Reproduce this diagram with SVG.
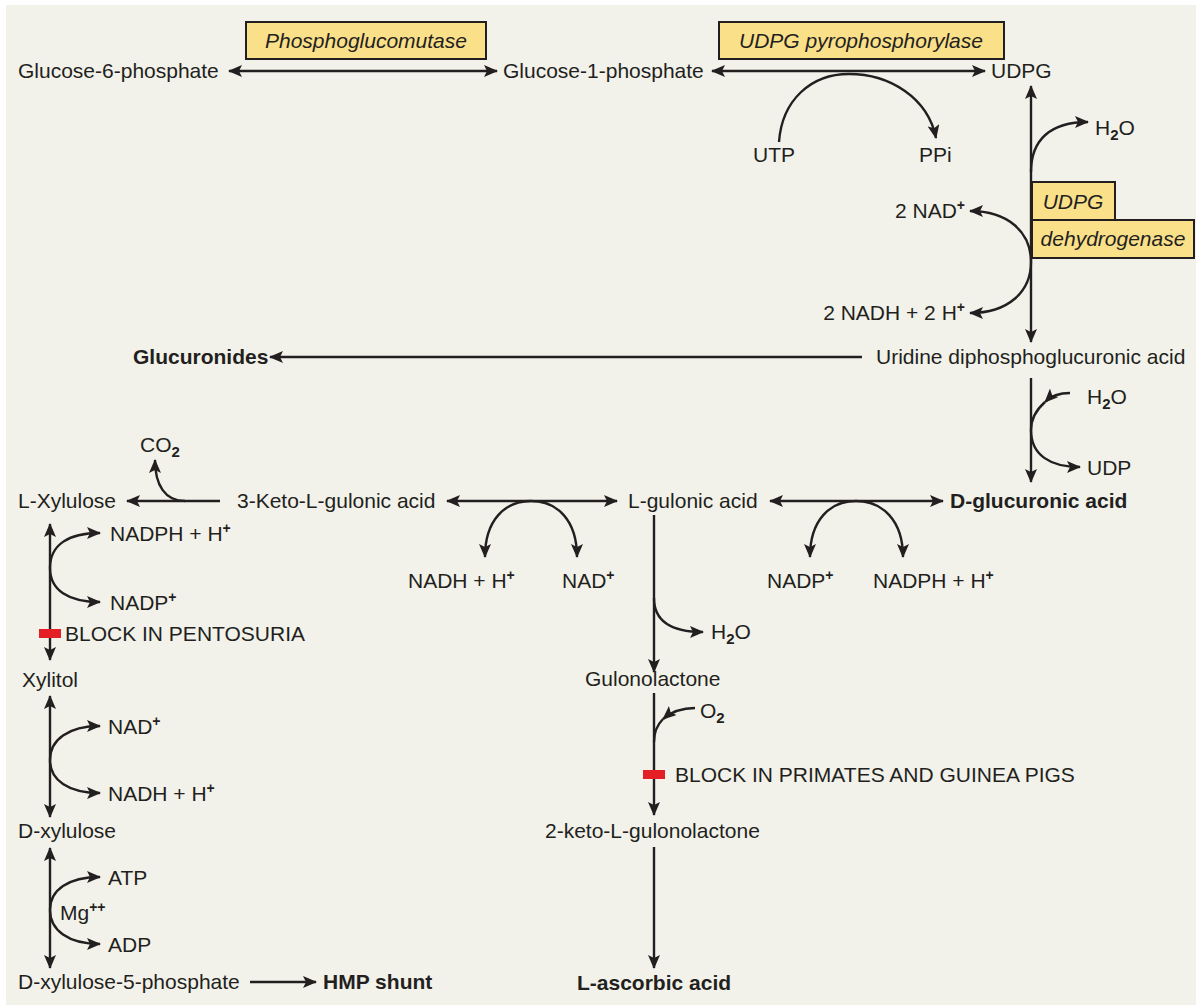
<svg xmlns="http://www.w3.org/2000/svg" width="1196" height="1006" viewBox="0 0 1196 1006">
<style>
.t{font-family:"Liberation Sans",Arial,Helvetica,sans-serif;font-size:21px;fill:#231f20}
.b{font-weight:bold}
.i{font-style:italic}
.sup{font-size:14px;font-weight:bold}
.sub{font-size:15px;font-weight:bold}
.ln{stroke:#231f20;stroke-width:2.4;fill:none}
.box{fill:#fbe08a;stroke:#231f20;stroke-width:2}
.blk{fill:#e31e24}
</style>
<defs>
<marker id="ah" viewBox="0 0 14 12" refX="13" refY="6" markerWidth="14" markerHeight="12" markerUnits="userSpaceOnUse" orient="auto-start-reverse"><path d="M0,0 L14,6 L0,12 L3,6 Z" fill="#231f20"/></marker>
</defs>
<rect x="0" y="0" width="1196" height="1006" fill="#ffffff"/>
<rect x="6" y="5" width="1190" height="1000" fill="#f2f2ea"/>

<g id="connectors">
<path class="ln" d="M229,71 L497,71" marker-start="url(#ah)" marker-end="url(#ah)"/>
<path class="ln" d="M712,71 L985,71" marker-start="url(#ah)" marker-end="url(#ah)"/>
<path class="ln" d="M779,142 C782,100 811,74 849,74 C890,74 928,98 936,138" marker-end="url(#ah)"/>
<path class="ln" d="M1031,342 L1031,86" marker-start="url(#ah)" marker-end="url(#ah)"/>
<path class="ln" d="M1031,172 C1031,140 1050,122 1088,122" marker-end="url(#ah)"/>
<path class="ln" d="M1031,262 C1031,232 1008,211 970,211" marker-end="url(#ah)"/>
<path class="ln" d="M1031,262 C1031,292 1008,313 970,313" marker-end="url(#ah)"/>
<path class="ln" d="M862,357 L270,357" marker-end="url(#ah)"/>
<path class="ln" d="M1031,378 L1031,482" marker-end="url(#ah)"/>
<path class="ln" d="M1070,393 C1058,393 1050,397 1045,402" marker-end="url(#ah)"/>
<path class="ln" d="M1045,402 C1036,410 1031,418 1031,430"/>
<path class="ln" d="M1031,430 C1031,455 1050,467 1080,467" marker-end="url(#ah)"/>
<path class="ln" d="M220,501 L127,501" marker-end="url(#ah)"/>
<path class="ln" d="M185,501 C165,501 155,485 155,460" marker-end="url(#ah)"/>
<path class="ln" d="M447,501 L617,501" marker-start="url(#ah)" marker-end="url(#ah)"/>
<path class="ln" d="M485,557 C485,520 505,501 531,501 C557,501 577,520 577,557" marker-start="url(#ah)" marker-end="url(#ah)"/>
<path class="ln" d="M770,501 L943,501" marker-start="url(#ah)" marker-end="url(#ah)"/>
<path class="ln" d="M810,557 C810,520 830,501 856,501 C882,501 903,520 903,557" marker-start="url(#ah)" marker-end="url(#ah)"/>
<path class="ln" d="M654,515 L654,672" marker-end="url(#ah)"/>
<path class="ln" d="M654,598 C654,620 670,632 703,632" marker-end="url(#ah)"/>
<path class="ln" d="M654,693 L654,815" marker-end="url(#ah)"/>
<path class="ln" d="M695,708 C680,708 670,713 663,719" marker-end="url(#ah)"/>
<path class="ln" d="M663,719 C657,725 654,732 654,742"/>
<path class="ln" d="M654,847 L654,968" marker-end="url(#ah)"/>
<path class="ln" d="M50,660 L50,524" marker-start="url(#ah)" marker-end="url(#ah)"/>
<path class="ln" d="M50,568 C50,545 68,533 100,533" marker-end="url(#ah)"/>
<path class="ln" d="M50,568 C50,590 68,602 100,602" marker-end="url(#ah)"/>
<path class="ln" d="M50,817 L50,696" marker-start="url(#ah)" marker-end="url(#ah)"/>
<path class="ln" d="M50,760 C50,740 68,726 100,726" marker-end="url(#ah)"/>
<path class="ln" d="M50,760 C50,780 68,793 100,793" marker-end="url(#ah)"/>
<path class="ln" d="M50,968 L50,848" marker-start="url(#ah)" marker-end="url(#ah)"/>
<path class="ln" d="M50,910 C50,890 68,877 100,877" marker-end="url(#ah)"/>
<path class="ln" d="M50,910 C50,930 68,944 100,944" marker-end="url(#ah)"/>
<path class="ln" d="M250,982 L316,982" marker-end="url(#ah)"/>
<rect class="blk" x="39" y="629" width="22" height="9"/>
<rect class="blk" x="643" y="770" width="22" height="9"/>
</g>

<g id="enzyme-phosphoglucomutase"><rect class="box" x="246" y="22" width="240" height="37"/><text class="t i" x="366" y="48" text-anchor="middle">Phosphoglucomutase</text></g>
<g id="enzyme-udpg-pyrophosphorylase"><rect class="box" x="719" y="22" width="285" height="37"/><text class="t i" x="861" y="48" text-anchor="middle">UDPG pyrophosphorylase</text></g>
<g id="enzyme-udpg-dehydrogenase"><rect class="box" x="1032" y="182" width="83" height="38"/><text class="t i" x="1073" y="209" text-anchor="middle">UDPG</text><rect class="box" x="1032" y="220" width="162" height="38"/><text class="t i" x="1113" y="246" text-anchor="middle">dehydrogenase</text></g>

<g id="n-g6p"><text class="t" x="18" y="78">Glucose-6-phosphate</text></g>
<g id="n-g1p"><text class="t" x="503" y="78">Glucose-1-phosphate</text></g>
<g id="n-udpg"><text class="t" x="991" y="78">UDPG</text></g>
<g id="n-utp"><text class="t" x="753" y="162">UTP</text></g>
<g id="n-ppi"><text class="t" x="919" y="162">PPi</text></g>
<g id="n-h2o-1"><text class="t" x="1095" y="135">H<tspan class="sub" dy="5">2</tspan><tspan dy="-5">O</tspan></text></g>
<g id="n-nad-1"><text class="t" x="965" y="218" text-anchor="end">2 NAD<tspan class="sup" dy="-8">+</tspan></text></g>
<g id="n-nadh-1"><text class="t" x="965" y="320" text-anchor="end">2 NADH + 2 H<tspan class="sup" dy="-8">+</tspan></text></g>
<g id="n-glucuronides"><text class="t b" x="133" y="364">Glucuronides</text></g>
<g id="n-udpga"><text class="t" x="876" y="364">Uridine diphosphoglucuronic acid</text></g>
<g id="n-h2o-2"><text class="t" x="1087" y="404">H<tspan class="sub" dy="5">2</tspan><tspan dy="-5">O</tspan></text></g>
<g id="n-udp"><text class="t" x="1087" y="475">UDP</text></g>
<g id="n-lxylulose"><text class="t" x="18" y="508">L-Xylulose</text></g>
<g id="n-co2"><text class="t" x="140" y="452">CO<tspan class="sub" dy="5">2</tspan></text></g>
<g id="n-3keto"><text class="t" x="237" y="508">3-Keto-L-gulonic acid</text></g>
<g id="n-lgulonic"><text class="t" x="628" y="508">L-gulonic acid</text></g>
<g id="n-dglucuronic"><text class="t b" x="950" y="508">D-glucuronic acid</text></g>
<g id="n-nadh-2"><text class="t" x="408" y="588">NADH + H<tspan class="sup" dy="-8">+</tspan></text></g>
<g id="n-nad-2"><text class="t" x="562" y="588">NAD<tspan class="sup" dy="-8">+</tspan></text></g>
<g id="n-nadp-2"><text class="t" x="767" y="588">NADP<tspan class="sup" dy="-8">+</tspan></text></g>
<g id="n-nadph-2"><text class="t" x="873" y="588">NADPH + H<tspan class="sup" dy="-8">+</tspan></text></g>
<g id="n-nadph-1"><text class="t" x="110" y="541">NADPH + H<tspan class="sup" dy="-8">+</tspan></text></g>
<g id="n-nadp-1"><text class="t" x="110" y="610">NADP<tspan class="sup" dy="-8">+</tspan></text></g>
<g id="n-block-pentosuria"><text class="t" x="65" y="641">BLOCK IN PENTOSURIA</text></g>
<g id="n-h2o-3"><text class="t" x="711" y="639">H<tspan class="sub" dy="5">2</tspan><tspan dy="-5">O</tspan></text></g>
<g id="n-xylitol"><text class="t" x="22" y="687">Xylitol</text></g>
<g id="n-gulonolactone"><text class="t" x="585" y="686">Gulonolactone</text></g>
<g id="n-o2"><text class="t" x="700" y="718">O<tspan class="sub" dy="5">2</tspan></text></g>
<g id="n-nad-3"><text class="t" x="108" y="734">NAD<tspan class="sup" dy="-8">+</tspan></text></g>
<g id="n-block-primates"><text class="t" x="675" y="782">BLOCK IN PRIMATES AND GUINEA PIGS</text></g>
<g id="n-nadh-3"><text class="t" x="108" y="801">NADH + H<tspan class="sup" dy="-8">+</tspan></text></g>
<g id="n-dxylulose"><text class="t" x="18" y="838">D-xylulose</text></g>
<g id="n-2keto"><text class="t" x="545" y="838">2-keto-L-gulonolactone</text></g>
<g id="n-atp"><text class="t" x="108" y="885">ATP</text></g>
<g id="n-mg"><text class="t" x="60" y="920">Mg<tspan class="sup" dy="-8">++</tspan></text></g>
<g id="n-adp"><text class="t" x="108" y="952">ADP</text></g>
<g id="n-dx5p"><text class="t" x="18" y="989">D-xylulose-5-phosphate</text></g>
<g id="n-hmp"><text class="t b" x="323" y="989">HMP shunt</text></g>
<g id="n-ascorbic"><text class="t b" x="577" y="990">L-ascorbic acid</text></g>
</svg>
